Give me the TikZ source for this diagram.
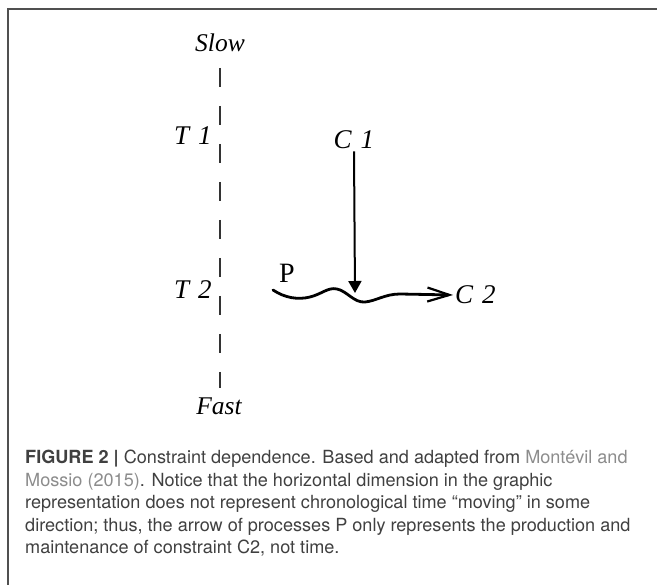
\documentclass[tikz,border=0pt]{standalone}
\usepackage{fontspec}
\setmainfont{Liberation Serif}
\setsansfont{TeX Gyre Heros}
\usetikzlibrary{arrows.meta}
\definecolor{captext}{HTML}{404040}
\definecolor{caplink}{HTML}{8C8C8C}
\definecolor{framegray}{HTML}{505050}
\definecolor{axisgray}{HTML}{333333}

\begin{document}
\begin{tikzpicture}[x=1pt,y=-1pt,
  scalelbl/.style={font=\fontsize{25.5}{28}\selectfont\itshape, inner sep=1pt},
  levellbl/.style={font=\fontsize{27}{30}\selectfont\itshape, inner sep=1pt},
  constr/.style={font=\fontsize{27}{30}\selectfont\itshape, inner sep=2pt},
  timeaxis/.style={line width=1.4pt, axisgray, dash pattern=on 19pt off 19pt},
  actarrow/.style={line width=2pt, -{Triangle[length=12pt,width=13pt]}},
  procline/.style={line width=2.8pt, line cap=round,
    -{Straight Barb[length=22pt,width=14pt,line width=2.2pt]}}]
\useasboundingbox (0,0) rectangle (657,585);

% Frame
\draw[framegray, line width=2pt] (657,9) -- (8,9) -- (8,585);

% Time scale
\node[scalelbl] (slow) at (220,43) {Slow};
\node[scalelbl] (fast) at (219,406) {Fast};
\coordinate (axtop) at (220,68);
\coordinate (axbot) at (220,388);
\draw[timeaxis] (axtop) -- (axbot);
\node[levellbl] (t1) at (193,136) {T\,\,1};
\node[levellbl] (t2) at (193,290) {T\,\,2};

% Constraints
\node[constr] (c1) at (354,140) {C\,\,1};
\node[constr, anchor=west] (c2) at (453,295) {C\,\,2};
\node[font=\fontsize{28}{30}\selectfont, inner sep=1pt] (p) at (287,273) {P};

% Process P and constraint C1 acting on it
\coordinate (pstart) at (273,290);
\coordinate (hit) at (355,293);
\draw[procline] (pstart) .. controls (285,298) and (298,300) .. (310,297)
  .. controls (322,294) and (328,287) .. (337,289)
  .. controls (347,291) and (354,303) .. (365,302)
  .. controls (376,301) and (385,294) .. (400,294) -- (c2.west);
\draw[actarrow] (c1.south) -- (hit);

% Caption
\node[anchor=north west, align=left, inner sep=0, text=captext,
  font=\sffamily\fontsize{18.1}{22.5}\selectfont] (caption) at (25,450)
  {\textbf{FIGURE 2 |} Constraint dependence. Based and adapted from \textcolor{caplink}{Montévil and}\\
   \textcolor{caplink}{Mossio (2015)}. Notice that the horizontal dimension in the graphic\\
   representation does not represent chronological time “moving” in some\\
   direction; thus, the arrow of processes P only represents the production and\\
   maintenance of constraint C2, not time.};
\end{tikzpicture}
\end{document}
